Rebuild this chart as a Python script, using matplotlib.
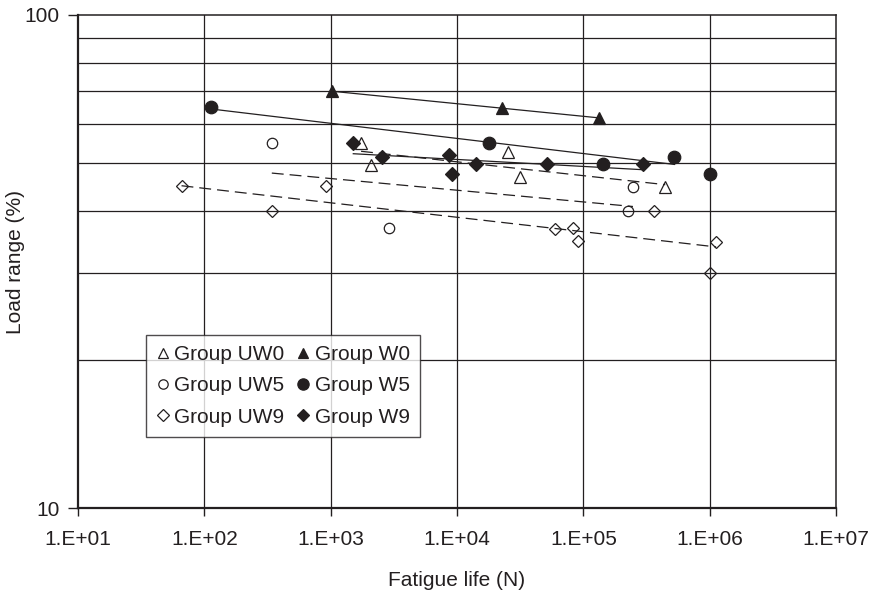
import matplotlib
matplotlib.use("Agg")
import matplotlib.pyplot as plt
import numpy as np
from matplotlib.ticker import FixedLocator, FuncFormatter, NullLocator

plt.rcParams['font.family'] = ['Liberation Sans', 'DejaVu Sans']

INK = '#231f20'
FS = 15

# fatigue life (cycles) and load range (%)
uw0_n = [1740, 2080, 25200, 31600, 445000]
uw0_s = [55.0, 49.6, 52.8, 46.9, 44.7]
w0_n = [1030, 22600, 133000]
w0_s = [70.0, 64.8, 61.8]
uw5_n = [342, 2920, 224000, 247000]
uw5_s = [55.0, 36.9, 40.0, 44.8]
w5_n = [113, 17900, 143000, 526000, 1010000]
w5_s = [65.0, 54.9, 49.8, 51.6, 47.6]
w5_in_fit = [True, True, True, True, False]  # last one is a run-out, not in the trend
uw9_n = [66, 345, 920, 59800, 83500, 90400, 362000, 1125000, 1000000]
uw9_s = [45.0, 40.0, 45.0, 36.8, 36.9, 34.8, 40.0, 34.7, 30.0]
w9_n = [1510, 2540, 8710, 9100, 14200, 51400, 299000]
w9_s = [55.0, 51.6, 52.0, 47.5, 49.8, 49.8, 49.8]

x_ticks = [1e1, 1e2, 1e3, 1e4, 1e5, 1e6, 1e7]
y_ticks = [10, 100]
y_grid = [20, 30, 40, 50, 60, 70, 80, 90]

# label, N, S, fit mask, marker, filled, trend style, marker size
groups = [
    ("Group UW0", uw0_n, uw0_s, None, '^', False, 'dash', 8.5),
    ("Group UW5", uw5_n, uw5_s, None, 'o', False, 'dash', 7.5),
    ("Group UW9", uw9_n, uw9_s, None, 'D', False, 'dash', 6.5),
    ("Group W0", w0_n, w0_s, None, '^', True, 'solid', 8.5),
    ("Group W5", w5_n, w5_s, w5_in_fit, 'o', True, 'solid', 9),
    ("Group W9", w9_n, w9_s, None, 'D', True, 'solid', 7),
]


def power_trend(n, s, mask):
    """least squares fit of log S vs log N, returned over the fitted range"""
    n = np.asarray(n, float)
    s = np.asarray(s, float)
    if mask is not None:
        m = np.asarray(mask)
        n, s = n[m], s[m]
    b, a = np.polyfit(np.log10(n), np.log10(s), 1)
    xs = np.array([n.min(), n.max()])
    return xs, 10 ** (a + b * np.log10(xs))


fig = plt.figure(figsize=(8.76, 5.94), dpi=100)
ax = fig.add_axes([78 / 876, 1 - 508 / 594, 758 / 876, 493 / 594])
ax.set_xscale('log')
ax.set_yscale('log')
ax.set_xlim(1e1, 1e7)
ax.set_ylim(10, 100)

# grid
for v in x_ticks[1:-1]:
    ax.axvline(v, color=INK, lw=0.9, zorder=1)
for v in y_grid:
    ax.axhline(v, color=INK, lw=0.9, zorder=1)

handles = []
for label, n, s, mask, mk, filled, style, ms in groups:
    xs, ys = power_trend(n, s, mask)
    if style == 'dash':
        ax.plot(xs, ys, color=INK, lw=0.9, linestyle=(0, (9.5, 4.8)), zorder=2)
    else:
        ax.plot(xs, ys, color=INK, lw=0.9, zorder=2)
    h, = ax.plot(n, s, linestyle='none', marker=mk, markersize=ms,
                 markerfacecolor=INK if filled else 'none',
                 markeredgecolor=INK, markeredgewidth=0.9, zorder=3, label=label)
    handles.append(h)

ax.xaxis.set_major_locator(FixedLocator(x_ticks))
ax.xaxis.set_minor_locator(NullLocator())
ax.yaxis.set_major_locator(FixedLocator(y_ticks))
ax.yaxis.set_minor_locator(NullLocator())
ax.xaxis.set_major_formatter(FuncFormatter(lambda v, p: "1.E+%02d" % round(np.log10(v))))
ax.yaxis.set_major_formatter(FuncFormatter(lambda v, p: "%g" % v))
ax.tick_params(axis='x', direction='out', length=6, width=1, color=INK,
               labelsize=FS, labelcolor=INK, pad=10)
ax.tick_params(axis='y', direction='out', length=7, width=1, color=INK,
               labelsize=FS, labelcolor=INK, pad=6)

for side, sp in ax.spines.items():
    sp.set_color(INK)
    sp.set_linewidth(1.6 if side in ('left', 'bottom') else 1.1)

ax.set_xlabel("Fatigue life (N)", fontsize=FS, color=INK, labelpad=16)
ax.set_ylabel("Load range (%)", fontsize=FS, color=INK, labelpad=0)

leg = ax.legend(handles=handles, ncol=2, loc='upper left',
                bbox_to_anchor=(0.0897, 0.351), borderaxespad=0,
                fontsize=FS, frameon=True, fancybox=False,
                handlelength=0.63, handletextpad=0.22, columnspacing=0.6,
                labelspacing=0.58, borderpad=0.5, markerscale=0.9)
leg.get_frame().set_edgecolor(INK)
leg.get_frame().set_linewidth(1.0)
leg.set_zorder(5)
for t in leg.get_texts():
    t.set_color(INK)

fig.savefig("out.png", dpi=100)
